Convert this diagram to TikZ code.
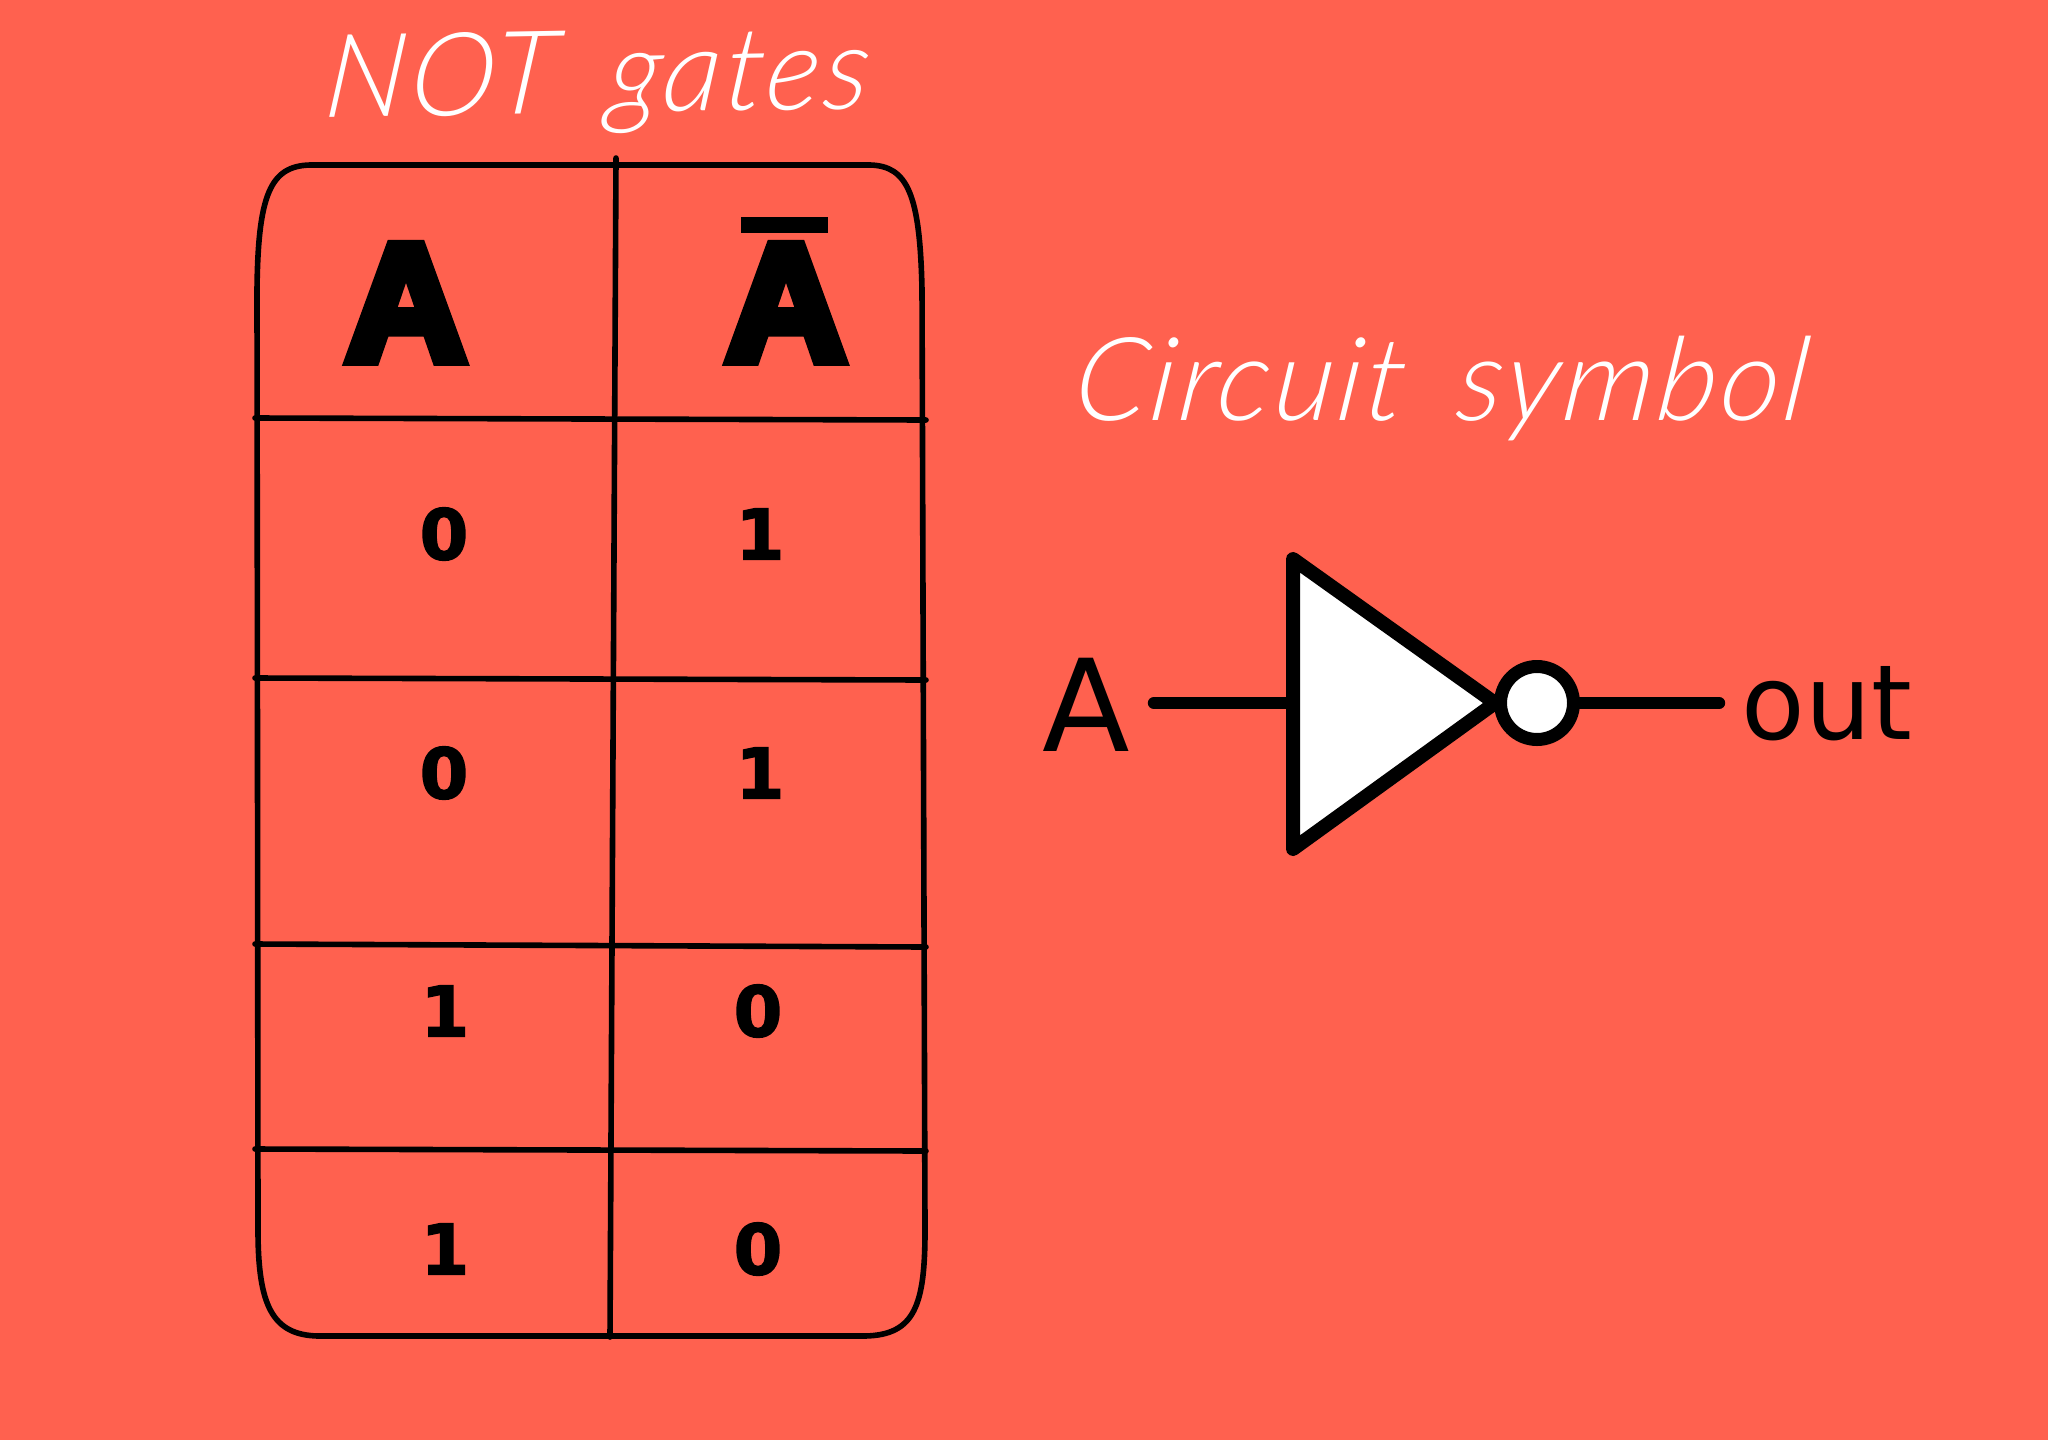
\documentclass[tikz,border=0pt]{standalone}
\usepackage{fontspec}
\setmainfont{DejaVu Sans}
\newfontfamily\heavy{Liberation Sans Bold}[FakeBold=7]
\newfontfamily\digitfont{DejaVu Sans Bold}[FakeBold=2]
\newfontfamily\hand{Lato Light Italic}[FakeSlant=0.12,LetterSpace=3,WordSpace=1.6]
\definecolor{bg}{HTML}{FF614F}
\tikzset{
  grid/.style={line width=2.8pt,black,line cap=round},
  frame/.style={line width=2.8pt,black},
  gate/.style={line width=7pt,black,line join=round,line cap=round},
  wire/.style={line width=6.2pt,black,line cap=round},
  bigA/.style={inner sep=0,anchor=base,font=\heavy\fontsize{83}{83}\selectfont},
  dgt/.style={inner sep=0,font=\digitfont\fontsize{35}{35}\selectfont},
  title/.style={inner sep=0,anchor=base,text=white,font=\hand\fontsize{58}{58}\selectfont},
  lbl/.style={inner sep=0,anchor=base,font=\fontsize{64}{64}\selectfont}
}
\begin{document}
\begin{tikzpicture}[x=0.5pt,y=-0.5pt]
\fill[bg] (0,0) rectangle (2048,1440);
\useasboundingbox (0,0) rectangle (2048,1440);
% table frame
\draw[frame] (310,165) -- (870,165)
  .. controls (908,166) and (920,195) .. (922,290)
  -- (925,1230)
  .. controls (925,1305) and (915,1335) .. (865,1336)
  -- (318,1336)
  .. controls (272,1335) and (258,1305) .. (258,1230)
  -- (257,290)
  .. controls (258,195) and (270,166) .. (310,165) -- cycle;
% grid
\draw[grid] (616,158) -- (610,1337);
\draw[grid] (255,418) -- (926,420);
\draw[grid] (255,678) -- (926,680);
\draw[grid] (255,944) -- (926,947);
\draw[grid] (255,1149) -- (926,1151);
% headers
\node[bigA] (ha) at (406,360) {A};
\node[bigA] (hb) at (786,360) {A};
\fill[black] (741,217) rectangle (828,233);
% digits
\node[dgt] (a1) at (444,534) {0};
\node[dgt] (b1) at (760,534) {1};
\node[dgt] (a2) at (444,773) {0};
\node[dgt] (b2) at (760,773) {1};
\node[dgt] (a3) at (445,1011) {1};
\node[dgt] (b3) at (758,1011) {0};
\node[dgt] (a4) at (445,1249) {1};
\node[dgt] (b4) at (758,1249) {0};
% titles
\node[title,rotate=1] (t1) at (595,113) {NOT gates};
\node[title] (t2) at (1438,420) {Circuit symbol};
% gate
\coordinate (ga) at (1293,559);
\coordinate (gb) at (1293,849);
\coordinate (gc) at (1495,703);
\coordinate (gi) at (1293,703);
\draw[gate,fill=white] (ga) -- (gc) -- (gb) -- cycle;
\node[circle,draw=black,fill=white,line width=6.5pt,minimum size=36.5pt,inner sep=0] (bub) at (1537,703) {};
\coordinate (in) at (1154,703);
\coordinate (out) at (1719,703);
\draw[wire] (in) -- (gi);
\draw[wire] (bub) -- (out);
\node[lbl] (la) at (1086,751) {A};
\node[lbl,font=\fontsize{52}{52}\selectfont] (lo) at (1827,739) {out};
\end{tikzpicture}
\end{document}
